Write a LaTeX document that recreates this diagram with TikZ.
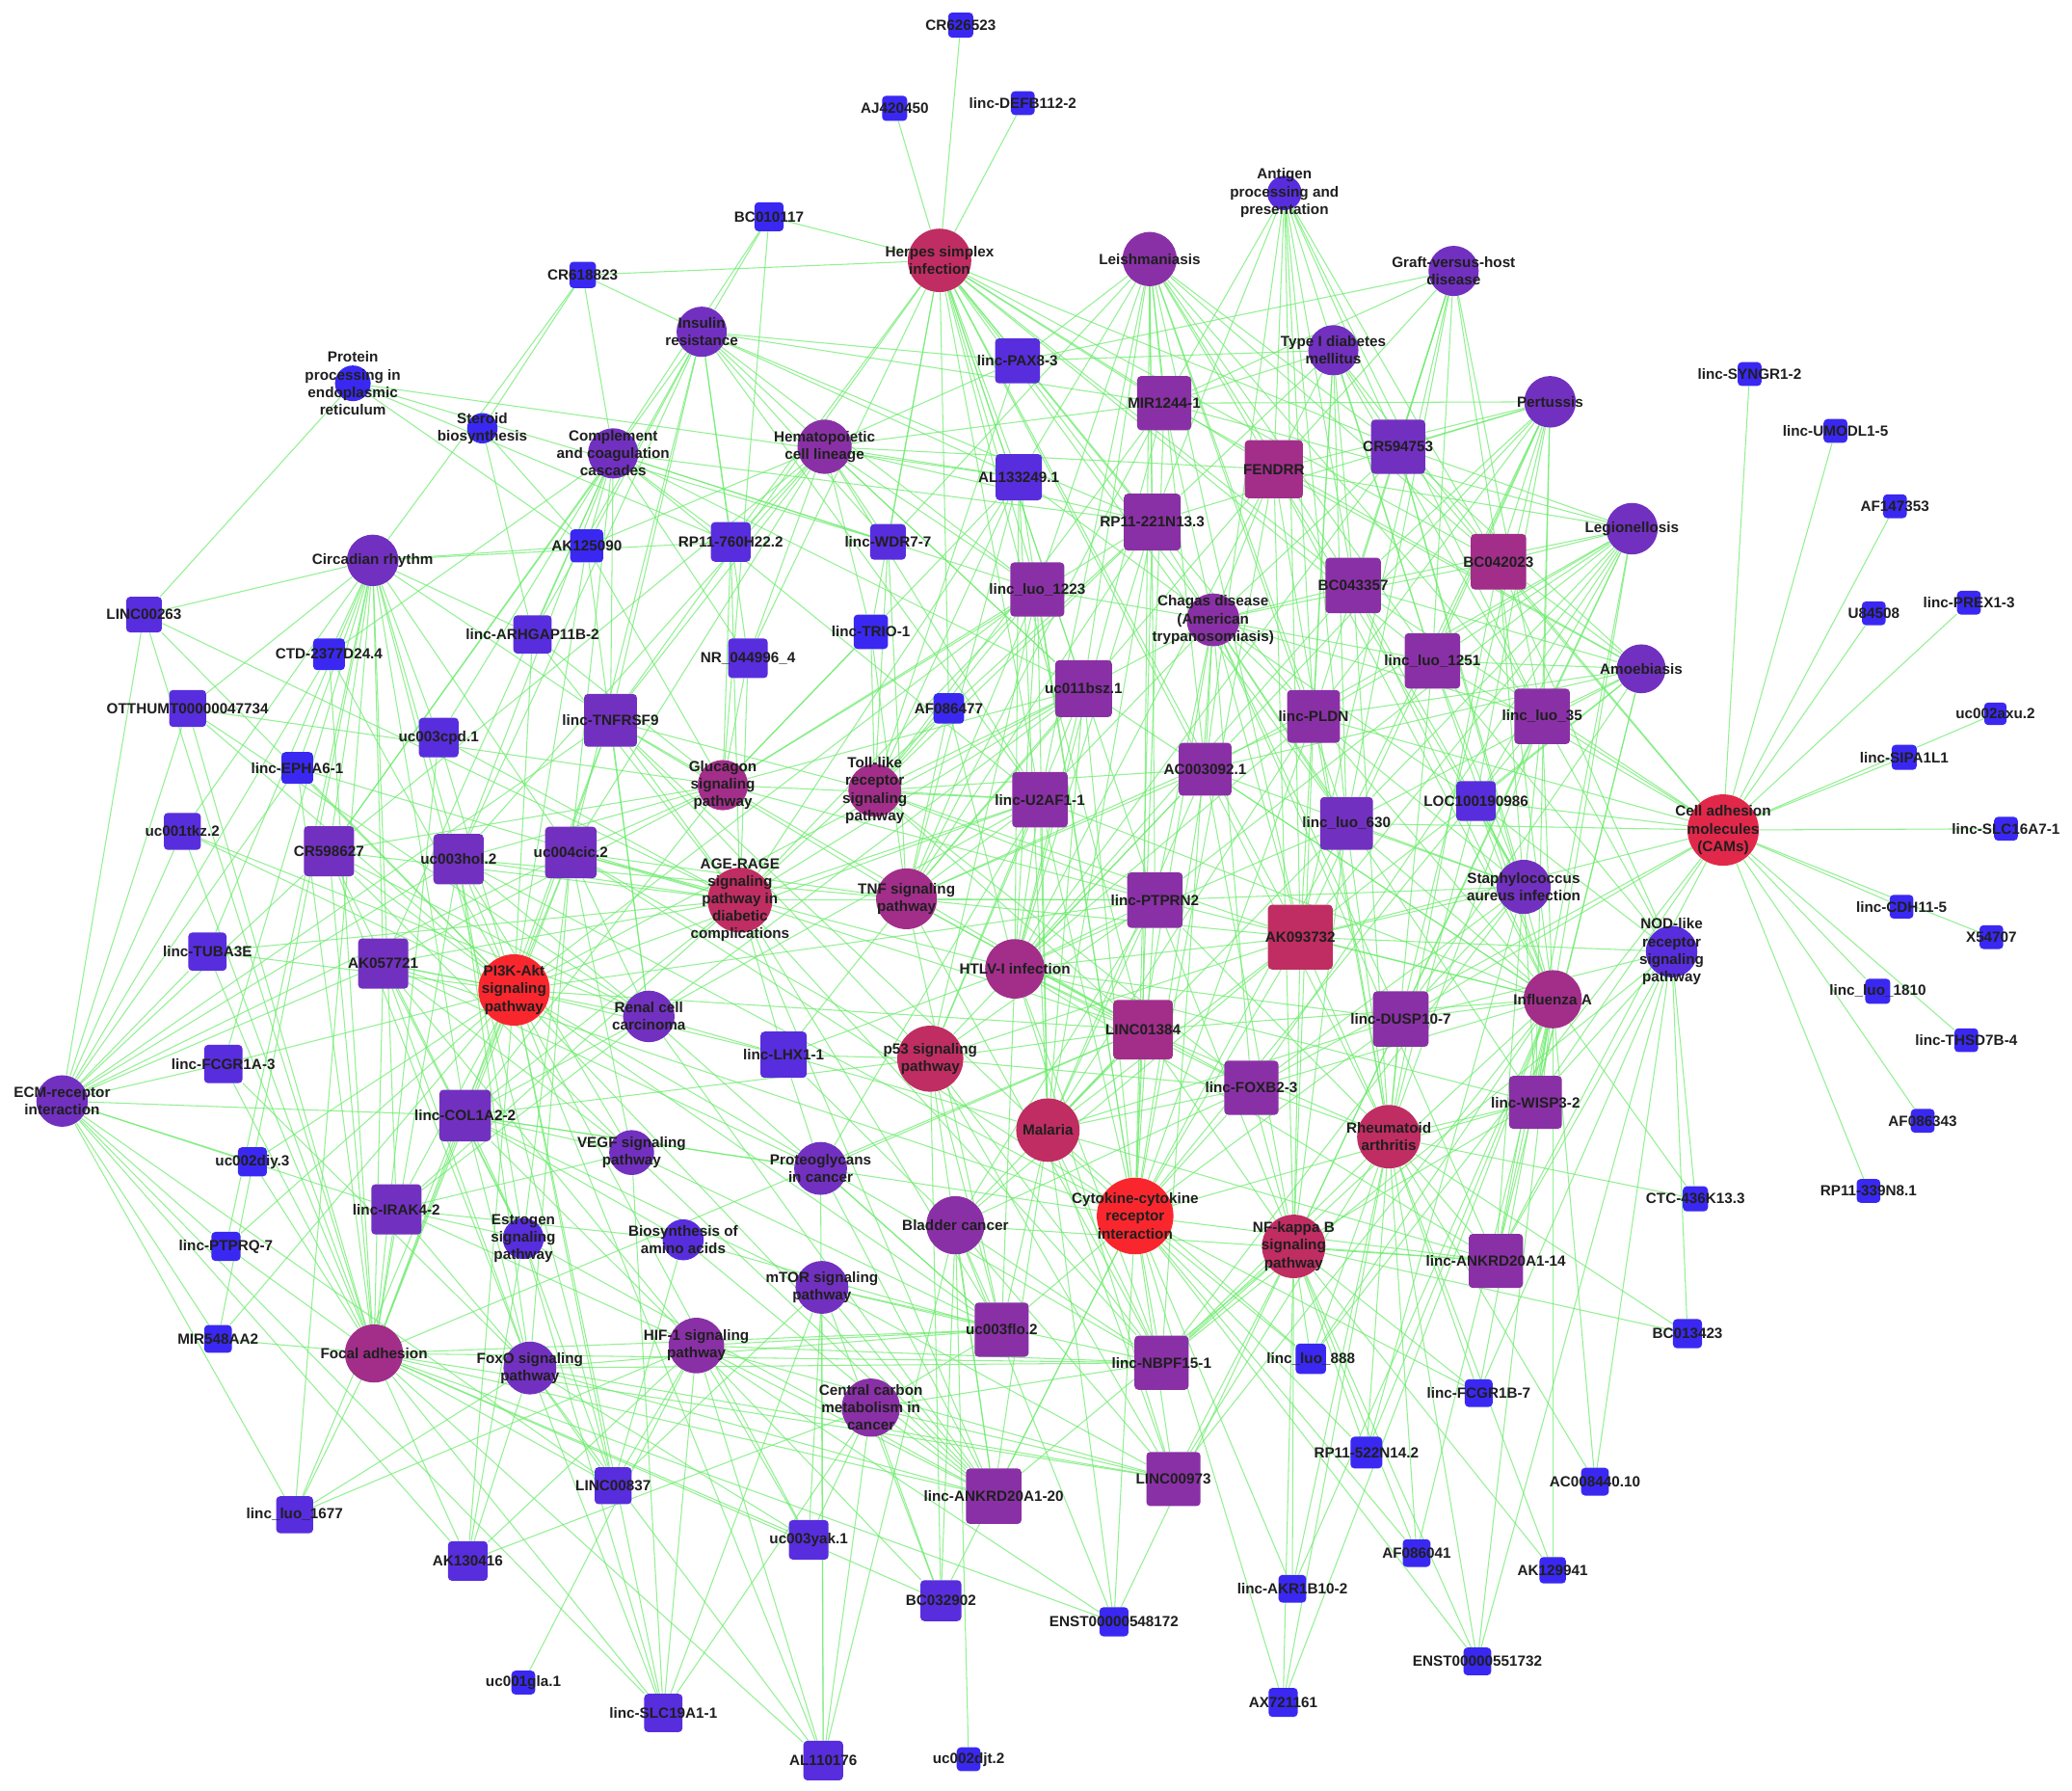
\documentclass[tikz,border=0pt]{standalone}
\usepackage{fontspec}
\setmainfont{Liberation Sans}
\usepackage{tikz}
\usetikzlibrary{positioning}
\definecolor{c1}{RGB}{58,40,242}
\definecolor{c2}{RGB}{88,45,222}
\definecolor{c3}{RGB}{114,48,192}
\definecolor{c4}{RGB}{138,48,166}
\definecolor{c5}{RGB}{162,46,138}
\definecolor{c6}{RGB}{192,45,98}
\definecolor{c7}{RGB}{226,40,74}
\definecolor{c8}{RGB}{250,38,46}
\definecolor{linkgreen}{RGB}{110,236,110}
\pgfdeclarelayer{background}
\pgfsetlayers{background,main}

\begin{document}
\begin{tikzpicture}[x=0.3mm, y=-0.3mm,
  pw/.style={circle, inner sep=0pt, minimum size=#1*0.3mm},
  ln/.style={rectangle, rounded corners=0.9mm, inner sep=0pt, minimum size=#1*0.3mm},
  txt/.style={font=\fontsize{9.5}{11.3}\selectfont\bfseries, text=black!88, align=center, inner sep=0pt},
  link/.style={draw=linkgreen, line width=0.65pt, draw opacity=0.75}]
\useasboundingbox (0,0) rectangle (1568,1355);
% pathways
\node[pw=48, fill=c6, label={[txt]center:{Herpes simplex\\infection}}] (hsv) at (711,197) {};
\node[pw=41, fill=c4, label={[txt]center:{Leishmaniasis}}] (leish) at (870,196) {};
\node[pw=26, fill=c2, label={[txt]center:{Antigen\\processing and\\presentation}}] (antig) at (972,146) {};
\node[pw=38, fill=c3, label={[txt]center:{Graft-versus-host\\disease}}] (gvhd) at (1100,205) {};
\node[pw=38, fill=c3, label={[txt]center:{Insulin\\resistance}}] (insul) at (531,251) {};
\node[pw=38, fill=c3, label={[txt]center:{Type I diabetes\\mellitus}}] (t1d) at (1009,265) {};
\node[pw=39, fill=c3, label={[txt]center:{Pertussis}}] (pert) at (1173,304) {};
\node[pw=27, fill=c1, label={[txt]center:{Protein\\processing in\\endoplasmic\\reticulum}}] (prot) at (267,290) {};
\node[pw=23, fill=c1, label={[txt]center:{Steroid\\biosynthesis}}] (ster) at (365,324) {};
\node[pw=38, fill=c3, label={[txt]center:{Complement\\and coagulation\\cascades}}] (compl) at (464,343) {};
\node[pw=41, fill=c4, label={[txt]center:{Hematopoietic\\cell lineage}}] (hema) at (624,338) {};
\node[pw=39, fill=c3, label={[txt]center:{Legionellosis}}] (legio) at (1235,400) {};
\node[pw=39, fill=c3, label={[txt]center:{Circadian rhythm}}] (circ) at (282,424) {};
\node[pw=40, fill=c4, label={[txt]center:{Chagas disease\\(American\\trypanosomiasis)}}] (chag) at (918,469) {};
\node[pw=37, fill=c3, label={[txt]center:{Amoebiasis}}] (amoe) at (1242,506) {};
\node[pw=38, fill=c5, label={[txt]center:{Glucagon\\signaling\\pathway}}] (gluc) at (547,594) {};
\node[pw=40, fill=c5, label={[txt]center:{Toll-like\\receptor\\signaling\\pathway}}] (toll) at (662,598) {};
\node[pw=54, fill=c7, label={[txt]center:{Cell adhesion\\molecules\\(CAMs)}}] (cams) at (1304,628) {};
\node[pw=49, fill=c6, label={[txt]center:{AGE-RAGE\\signaling\\pathway in\\diabetic\\complications}}] (age) at (560,681) {};
\node[pw=46, fill=c5, label={[txt]center:{TNF signaling\\pathway}}] (tnf) at (686,680) {};
\node[pw=41, fill=c3, label={[txt]center:{Staphylococcus\\aureus infection}}] (staph) at (1153,671) {};
\node[pw=39, fill=c2, label={[txt]center:{NOD-like\\receptor\\signaling\\pathway}}] (nod) at (1265,720) {};
\node[pw=45, fill=c5, label={[txt]center:{HTLV-I infection}}] (htlv) at (768,733) {};
\node[pw=54, fill=c8, label={[txt]center:{PI3K-Akt\\signaling\\pathway}}] (pi3k) at (389,749) {};
\node[pw=44, fill=c5, label={[txt]center:{Influenza A}}] (infl) at (1175,756) {};
\node[pw=39, fill=c3, label={[txt]center:{Renal cell\\carcinoma}}] (renal) at (491,769) {};
\node[pw=50, fill=c6, label={[txt]center:{p53 signaling\\pathway}}] (p53) at (704,801) {};
\node[pw=48, fill=c6, label={[txt]center:{Malaria}}] (mal) at (793,855) {};
\node[pw=48, fill=c6, label={[txt]center:{Rheumatoid\\arthritis}}] (ra) at (1051,860) {};
\node[pw=39, fill=c3, label={[txt]center:{ECM-receptor\\interaction}}] (ecm) at (47,833) {};
\node[pw=34, fill=c3, label={[txt]center:{VEGF signaling\\pathway}}] (vegf) at (478,872) {};
\node[pw=40, fill=c3, label={[txt]center:{Proteoglycans\\in cancer}}] (prg) at (621,884) {};
\node[pw=58, fill=c8, label={[txt]center:{Cytokine-cytokine\\receptor\\interaction}}] (cyto) at (859,920) {};
\node[pw=44, fill=c4, label={[txt]center:{Bladder cancer}}] (blad) at (723,927) {};
\node[pw=48, fill=c6, label={[txt]center:{NF-kappa B\\signaling\\pathway}}] (nfkb) at (979,943) {};
\node[pw=31, fill=c2, label={[txt]center:{Estrogen\\signaling\\pathway}}] (estr) at (396,937) {};
\node[pw=31, fill=c2, label={[txt]center:{Biosynthesis of\\amino acids}}] (bioaa) at (517,938) {};
\node[pw=40, fill=c3, label={[txt]center:{mTOR signaling\\pathway}}] (mtor) at (622,974) {};
\node[pw=44, fill=c5, label={[txt]center:{Focal adhesion}}] (focal) at (283,1024) {};
\node[pw=40, fill=c3, label={[txt]center:{FoxO signaling\\pathway}}] (foxo) at (401,1035) {};
\node[pw=42, fill=c4, label={[txt]center:{HIF-1 signaling\\pathway}}] (hif) at (527,1018) {};
\node[pw=44, fill=c4, label={[txt]center:{Central carbon\\metabolism in\\cancer}}] (ccm) at (659,1065) {};
% lncRNAs
\node[ln=19, fill=c1, label={[txt]center:CR626523}] (cra) at (727,19) {};
\node[ln=19, fill=c1, label={[txt]center:AJ420450}] (aja) at (677,82) {};
\node[ln=18, fill=c1, label={[txt]center:linc-DEFB112-2}] (defb) at (774,78) {};
\node[ln=22, fill=c1, label={[txt]center:BC010117}] (bca) at (582,164) {};
\node[ln=20, fill=c1, label={[txt]center:CR618823}] (crb) at (441,208) {};
\node[ln=18, fill=c1, label={[txt]center:linc-SYNGR1-2}] (syngr) at (1324,283) {};
\node[ln=18, fill=c1, label={[txt]center:linc-UMODL1-5}] (umodl) at (1389,326) {};
\node[ln=18, fill=c1, label={[txt]center:AF147353}] (afa) at (1434,383) {};
\node[ln=18, fill=c1, label={[txt]center:U84508}] (usix) at (1418,464) {};
\node[ln=18, fill=c1, label={[txt]center:linc-PREX1-3}] (prex) at (1490,456) {};
\node[ln=17, fill=c1, label={[txt]center:uc002axu.2}] (axu) at (1510,540) {};
\node[ln=19, fill=c1, label={[txt]center:linc-SIPA1L1}] (sipa) at (1441,573) {};
\node[ln=18, fill=c1, label={[txt]center:linc-SLC16A7-1}] (slcb) at (1518,627) {};
\node[ln=18, fill=c1, label={[txt]center:linc-CDH11-5}] (cdh) at (1439,686) {};
\node[ln=18, fill=c1, label={[txt]center:X54707}] (xfive) at (1507,709) {};
\node[ln=19, fill=c1, label={[txt]center:linc\_luo\_1810}] (luoa) at (1421,750) {};
\node[ln=18, fill=c1, label={[txt]center:linc-THSD7B-4}] (thsd) at (1488,787) {};
\node[ln=18, fill=c1, label={[txt]center:AF086343}] (afb) at (1455,848) {};
\node[ln=18, fill=c1, label={[txt]center:RP11-339N8.1}] (rpa) at (1414,901) {};
\node[ln=19, fill=c1, label={[txt]center:CTC-436K13.3}] (ctc) at (1283,907) {};
\node[ln=22, fill=c1, label={[txt]center:BC013423}] (bcb) at (1277,1009) {};
\node[ln=21, fill=c1, label={[txt]center:linc-FCGR1B-7}] (fcgrb) at (1119,1054) {};
\node[ln=21, fill=c1, label={[txt]center:AC008440.10}] (acb) at (1207,1121) {};
\node[ln=21, fill=c1, label={[txt]center:AF086041}] (afc) at (1072,1175) {};
\node[ln=20, fill=c1, label={[txt]center:AK129941}] (aka) at (1175,1188) {};
\node[ln=21, fill=c1, label={[txt]center:ENST00000551732}] (enstb) at (1118,1257) {};
\node[ln=24, fill=c1, label={[txt]center:RP11-522N14.2}] (rpb) at (1034,1099) {};
\node[ln=23, fill=c1, label={[txt]center:linc\_luo\_888}] (luob) at (992,1028) {};
\node[ln=21, fill=c1, label={[txt]center:linc-AKR1B10-2}] (akr) at (978,1202) {};
\node[ln=22, fill=c1, label={[txt]center:AX721161}] (axs) at (971,1288) {};
\node[ln=22, fill=c1, label={[txt]center:ENST00000548172}] (ensta) at (843,1227) {};
\node[ln=18, fill=c1, label={[txt]center:uc002djt.2}] (djt) at (733,1331) {};
\node[ln=30, fill=c2, label={[txt]center:AL110176}] (ala) at (623,1332) {};
\node[ln=31, fill=c2, label={[txt]center:BC032902}] (bcc) at (712,1211) {};
\node[ln=30, fill=c2, label={[txt]center:uc003yak.1}] (yak) at (612,1165) {};
\node[ln=29, fill=c2, label={[txt]center:linc-SLC19A1-1}] (slca) at (502,1296) {};
\node[ln=18, fill=c1, label={[txt]center:uc001gla.1}] (gla) at (396,1273) {};
\node[ln=30, fill=c2, label={[txt]center:AK130416}] (akb) at (354,1181) {};
\node[ln=28, fill=c2, label={[txt]center:LINC00837}] (lnca) at (464,1124) {};
\node[ln=28, fill=c2, label={[txt]center:linc\_luo\_1677}] (luoc) at (223,1146) {};
\node[ln=21, fill=c1, label={[txt]center:MIR548AA2}] (mira) at (165,1013) {};
\node[ln=22, fill=c1, label={[txt]center:linc-PTPRQ-7}] (ptprq) at (171,943) {};
\node[ln=22, fill=c1, label={[txt]center:uc002diy.3}] (diy) at (191,879) {};
\node[ln=29, fill=c2, label={[txt]center:linc-FCGR1A-3}] (fcgra) at (169,805) {};
\node[ln=29, fill=c2, label={[txt]center:linc-TUBA3E}] (tuba) at (157,720) {};
\node[ln=28, fill=c2, label={[txt]center:uc001tkz.2}] (tkz) at (138,629) {};
\node[ln=24, fill=c1, label={[txt]center:linc-EPHA6-1}] (epha) at (225,581) {};
\node[ln=28, fill=c2, label={[txt]center:OTTHUMT00000047734}] (otth) at (142,536) {};
\node[ln=24, fill=c1, label={[txt]center:CTD-2377D24.4}] (ctd) at (249,495) {};
\node[ln=27, fill=c2, label={[txt]center:LINC00263}] (lncb) at (109,465) {};
\node[ln=25, fill=c1, label={[txt]center:AK125090}] (akc) at (444,413) {};
\node[ln=29, fill=c2, label={[txt]center:linc-ARHGAP11B-2}] (arhg) at (403,480) {};
\node[ln=30, fill=c2, label={[txt]center:uc003cpd.1}] (cpd) at (332,558) {};
\node[ln=30, fill=c2, label={[txt]center:NR\_044996\_4}] (nra) at (566,498) {};
\node[ln=26, fill=c1, label={[txt]center:linc-TRIO-1}] (trio) at (659,478) {};
\node[ln=23, fill=c1, label={[txt]center:AF086477}] (afd) at (718,536) {};
\node[ln=30, fill=c2, label={[txt]center:RP11-760H22.2}] (rpc) at (553,410) {};
\node[ln=27, fill=c2, label={[txt]center:linc-WDR7-7}] (wdr) at (672,410) {};
\node[ln=30, fill=c2, label={[txt]center:LOC100190986}] (loc) at (1117,606) {};
\node[ln=35, fill=c2, label={[txt]center:linc-LHX1-1}] (lhx) at (593,798) {};
\node[ln=34, fill=c2, label={[txt]center:linc-PAX8-3}] (pax) at (770,273) {};
\node[ln=41, fill=c4, label={[txt]center:MIR1244-1}] (mirb) at (881,305) {};
\node[ln=35, fill=c2, label={[txt]center:AL133249.1}] (alb) at (771,361) {};
\node[ln=44, fill=c5, label={[txt]center:FENDRR}] (fendrr) at (964,355) {};
\node[ln=41, fill=c3, label={[txt]center:CR594753}] (crc) at (1058,338) {};
\node[ln=43, fill=c4, label={[txt]center:RP11-221N13.3}] (rpd) at (872,395) {};
\node[ln=41, fill=c4, label={[txt]center:linc\_luo\_1223}] (luod) at (785,446) {};
\node[ln=42, fill=c4, label={[txt]center:BC043357}] (bcd) at (1024,443) {};
\node[ln=42, fill=c5, label={[txt]center:BC042023}] (bce) at (1134,425) {};
\node[ln=42, fill=c4, label={[txt]center:linc\_luo\_1251}] (luoe) at (1084,500) {};
\node[ln=43, fill=c4, label={[txt]center:uc011bsz.1}] (bsz) at (820,521) {};
\node[ln=40, fill=c4, label={[txt]center:linc-PLDN}] (pldn) at (994,542) {};
\node[ln=42, fill=c4, label={[txt]center:linc\_luo\_35}] (luof) at (1167,542) {};
\node[ln=40, fill=c3, label={[txt]center:linc-TNFRSF9}] (tnfr) at (462,545) {};
\node[ln=40, fill=c4, label={[txt]center:AC003092.1}] (acc) at (912,582) {};
\node[ln=42, fill=c4, label={[txt]center:linc-U2AF1-1}] (uaf) at (787,605) {};
\node[ln=40, fill=c3, label={[txt]center:linc\_luo\_630}] (luog) at (1019,623) {};
\node[ln=38, fill=c3, label={[txt]center:CR598627}] (crd) at (249,644) {};
\node[ln=38, fill=c3, label={[txt]center:uc003hol.2}] (hol) at (347,650) {};
\node[ln=39, fill=c3, label={[txt]center:uc004cic.2}] (cic) at (432,645) {};
\node[ln=42, fill=c4, label={[txt]center:linc-PTPRN2}] (ptprn) at (874,681) {};
\node[ln=49, fill=c6, label={[txt]center:AK093732}] (akd) at (984,709) {};
\node[ln=38, fill=c3, label={[txt]center:AK057721}] (ake) at (290,729) {};
\node[ln=45, fill=c5, label={[txt]center:LINC01384}] (lncc) at (865,779) {};
\node[ln=42, fill=c4, label={[txt]center:linc-DUSP10-7}] (dusp) at (1060,771) {};
\node[ln=41, fill=c4, label={[txt]center:linc-FOXB2-3}] (foxb) at (947,823) {};
\node[ln=40, fill=c4, label={[txt]center:linc-WISP3-2}] (wisp) at (1162,834) {};
\node[ln=39, fill=c3, label={[txt]center:linc-COL1A2-2}] (col) at (352,844) {};
\node[ln=38, fill=c3, label={[txt]center:linc-IRAK4-2}] (irak) at (300,915) {};
\node[ln=41, fill=c4, label={[txt]center:linc-ANKRD20A1-14}] (anka) at (1132,954) {};
\node[ln=41, fill=c4, label={[txt]center:uc003flo.2}] (flo) at (758,1006) {};
\node[ln=41, fill=c4, label={[txt]center:linc-NBPF15-1}] (nbpf) at (879,1031) {};
\node[ln=41, fill=c4, label={[txt]center:LINC00973}] (lncd) at (888,1119) {};
\node[ln=42, fill=c4, label={[txt]center:linc-ANKRD20A1-20}] (ankb) at (752,1132) {};
% interactions
\begin{pgfonlayer}{background}
\fill[white] (0,0) rectangle (1568,1355);
\foreach \s/\ts in {cra/{hsv}, aja/{hsv}, defb/{hsv}, bca/{hsv,insul,gluc,compl}, crb/{hsv,insul,compl,circ,ster},
  syngr/{cams}, umodl/{cams}, afa/{cams}, usix/{cams}, prex/{cams}, axu/{cams}, sipa/{cams}, slcb/{cams},
  cdh/{cams}, xfive/{cams}, luoa/{cams}, thsd/{cams}, afb/{cams}, rpa/{cams},
  ctc/{nod,ra,infl}, bcb/{nod,nfkb,ra},
  fcgrb/{ra,infl,nfkb,nod,cyto}, acb/{infl,ra,nod}, aka/{ra,nfkb,infl}, afc/{nfkb,ra,infl,cyto},
  enstb/{nfkb,ra,infl,nod,cyto}, rpb/{nfkb,ra,cyto,infl,staph}, luob/{nfkb,cyto,ra,infl,mal,cams},
  akr/{nfkb,cyto,ra,infl}, axs/{cyto,nfkb,ra,infl}, ensta/{cyto,blad,mal,nfkb,focal,hif}, djt/{blad},
  bcc/{ccm,mtor,blad,hif,p53,cyto,focal}, ala/{mtor,ccm,hif,prg,focal,foxo,pi3k,blad},
  yak/{ccm,mtor,hif,foxo,pi3k,focal}, slca/{focal,foxo,hif,pi3k,mtor,ccm,ecm,estr,vegf}, gla/{hif},
  lnca/{focal,foxo,hif,pi3k,mtor,bioaa,estr,ecm,circ}, akb/{focal,ecm,pi3k,foxo,hif,estr,ccm},
  luoc/{focal,ecm,pi3k,foxo,hif,circ}, mira/{focal,ecm,pi3k,circ}, ptprq/{ecm,focal,pi3k,circ},
  diy/{ecm,focal,pi3k}, fcgra/{ecm,pi3k,focal,circ,foxo}, tuba/{ecm,pi3k,focal,circ,age},
  tkz/{ecm,pi3k,focal,circ,renal}, epha/{circ,pi3k,focal,ecm,age}, otth/{ecm,circ,pi3k,focal,renal,gluc},
  ctd/{circ,pi3k,compl,focal,ecm}, lncb/{ecm,circ,prot,pi3k,focal,age},
  akc/{compl,circ,hema,insul,pi3k,gluc,renal,ster,prot}, arhg/{circ,compl,pi3k,gluc,age,insul,ster},
  cpd/{circ,compl,pi3k,focal,age}, nra/{gluc,hema,insul,compl,age,hsv}, trio/{hsv,hema,toll,tnf,gluc},
  afd/{hsv,toll,tnf,htlv}, rpc/{insul,hema,hsv,compl,gluc,circ,age,prot},
  wdr/{hsv,hema,insul,toll,tnf,leish,compl,prot}, loc/{cams,staph,legio,amoe,chag,infl,pert,nod,ra},
  lhx/{p53,pi3k,age,tnf,prg,renal,htlv,mal,blad},
  pax/{hsv,leish,insul,hema,t1d,chag,toll,gvhd},
  mirb/{leish,antig,t1d,hsv,gvhd,pert,chag,htlv,hema,cyto,tnf,toll,legio,amoe,insul},
  alb/{hsv,leish,hema,toll,tnf,chag,insul,htlv,prot,gluc,age,mal,cyto},
  fendrr/{leish,antig,t1d,gvhd,pert,chag,legio,hsv,cyto,htlv,ra,staph,amoe,infl,hema,tnf,nfkb},
  crc/{gvhd,pert,antig,t1d,legio,leish,chag,staph,amoe,infl,cams,htlv,hsv},
  rpd/{leish,hsv,antig,t1d,chag,hema,htlv,tnf,toll,insul,cyto,gluc,age,mal,compl,pert},
  luod/{hsv,leish,hema,toll,tnf,htlv,chag,compl,gluc,age,p53,mal,cyto,insul,pi3k},
  bcd/{pert,gvhd,t1d,leish,legio,chag,antig,amoe,staph,infl,cams,hsv,htlv,ra},
  bce/{pert,gvhd,legio,amoe,t1d,antig,staph,chag,infl,nod,cams,hsv,leish,ra},
  luoe/{pert,legio,amoe,gvhd,chag,staph,infl,t1d,leish,antig,ra,nod,cams,hsv},
  bsz/{hsv,leish,chag,toll,tnf,htlv,hema,gluc,age,mal,cyto,pi3k,compl,insul,p53,renal,infl},
  pldn/{chag,leish,legio,amoe,pert,gvhd,staph,infl,t1d,htlv,antig,cyto,cams,hsv,ra,nfkb,mal,tnf},
  luof/{legio,amoe,pert,staph,infl,nod,cams,gvhd,chag,t1d,leish,antig,ra,nfkb,cyto},
  tnfr/{compl,insul,gluc,age,pi3k,renal,hema,circ,cyto,hsv,toll,tnf,p53,focal,ecm},
  acc/{chag,leish,htlv,tnf,mal,legio,amoe,infl,cyto,hsv,toll,staph,pert,ra,nfkb,p53,antig},
  uaf/{hsv,toll,tnf,htlv,gluc,age,chag,hema,mal,p53,cyto,pi3k,leish,renal,prg,insul,compl,infl},
  luog/{chag,staph,infl,legio,amoe,pert,ra,htlv,antig,cams,hsv,leish,t1d,gvhd,nfkb,cyto,mal},
  crd/{circ,pi3k,focal,ecm,age,compl,renal,gluc,insul,foxo,estr,vegf,hema},
  hol/{circ,pi3k,age,gluc,compl,renal,focal,cyto,insul,hema,foxo,estr,vegf,ecm,tnf},
  cic/{pi3k,age,gluc,compl,renal,insul,circ,vegf,cyto,hema,foxo,estr,focal,tnf,p53,htlv,ecm},
  ptprn/{htlv,tnf,mal,chag,cyto,p53,ra,nfkb,infl,pi3k,hsv,leish,toll,gluc,age,blad,staph,legio},
  akd/{chag,ra,nfkb,infl,cyto,htlv,mal,staph,legio,leish,pert,amoe,antig,cams,hsv,nod,t1d,gvhd,p53,tnf,toll,blad},
  ake/{pi3k,ecm,focal,circ,age,renal,vegf,estr,cyto,compl,gluc,foxo,hif,prg},
  lncc/{htlv,mal,p53,cyto,tnf,blad,nfkb,ra,chag,pi3k,hsv,age,toll,gluc,leish,infl,focal,prg},
  dusp/{infl,ra,staph,nfkb,cams,nod,legio,amoe,cyto,chag,pert,htlv,mal},
  foxb/{ra,nfkb,cyto,mal,infl,htlv,chag,cams,p53,tnf,staph,legio,blad,toll},
  wisp/{infl,ra,nfkb,nod,staph,cams,legio,amoe,chag,pert,cyto,htlv},
  col/{pi3k,focal,ecm,vegf,estr,foxo,renal,prg,age,cyto,hif,bioaa,mtor,circ,gluc,p53},
  irak/{focal,pi3k,ecm,estr,foxo,circ,vegf,hif,renal,age,bioaa},
  anka/{ra,nfkb,infl,nod,cyto,staph,cams,mal,htlv,legio,amoe,chag,blad},
  flo/{blad,mtor,ccm,cyto,mal,p53,hif,prg,pi3k,focal,htlv,tnf,age,foxo,vegf,bioaa,renal},
  nbpf/{cyto,nfkb,ra,mal,blad,ccm,hif,foxo,infl,pi3k,focal,htlv,p53,tnf,mtor,staph,nod,chag,age},
  lncd/{cyto,nfkb,ra,mal,ccm,blad,infl,focal,hif,foxo,p53,htlv,mtor},
  ankb/{ccm,blad,mtor,cyto,hif,foxo,p53,focal,nfkb,pi3k,mal,prg,bioaa,estr,age,renal,vegf}}
  {\foreach \t in \ts {\draw[link] (\s) -- (\t);}}
\end{pgfonlayer}
\end{tikzpicture}
\end{document}
